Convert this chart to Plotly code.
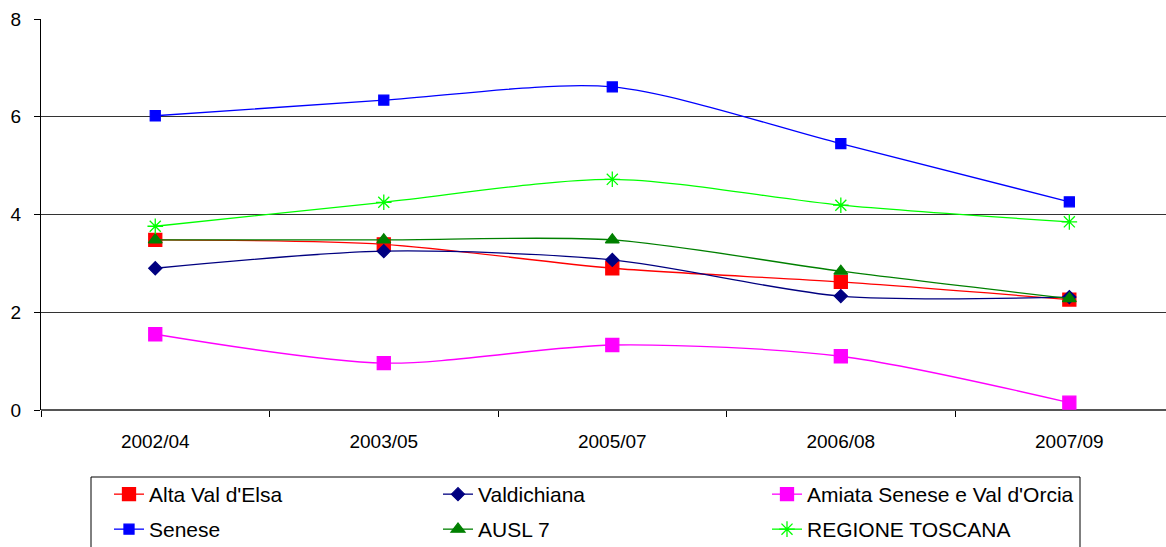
import plotly.graph_objects as go

categories = ["2002/04", "2003/05", "2005/07", "2006/08", "2007/09"]
alta_val_delsa = [3.48, 3.39, 2.90, 2.62, 2.26]
valdichiana = [2.90, 3.25, 3.07, 2.33, 2.31]
amiata = [1.55, 0.96, 1.33, 1.10, 0.15]
senese = [6.02, 6.34, 6.61, 5.45, 4.26]
ausl7 = [3.48, 3.48, 3.48, 2.84, 2.28]
toscana = [3.76, 4.25, 4.72, 4.19, 3.85]
y_ticks = [0, 2, 4, 6, 8]

series = [
    ("Alta Val d'Elsa", alta_val_delsa, "#ff0000", "square", 13, "legend"),
    ("Valdichiana", valdichiana, "#000080", "diamond", 10, "legend"),
    ("Amiata Senese e Val d'Orcia", amiata, "#ff00ff", "square", 13, "legend"),
    ("Senese", senese, "#0000ff", "square", 10, "legend2"),
    ("AUSL 7", ausl7, "#008000", "triangle-up", 12, "legend2"),
    ("REGIONE TOSCANA", toscana, "#00ff00", "asterisk-open", 13, "legend2"),
]

fig = go.Figure()
for name, vals, color, sym, size, lg in series:
    fig.add_trace(go.Scatter(
        x=categories, y=vals, name=name, mode="lines+markers", legend=lg,
        line=dict(color=color, width=1.3, shape="spline", smoothing=0.8),
        marker=dict(symbol=sym, size=size, color=color,
                    line=dict(color=color, width=1.3)),
    ))

PW = 1125.0
PH = 391.0

def px_x(px):
    return (px - 41) / PW

def px_y(py):
    return (410 - py) / PH

legend_common = dict(
    orientation="h", xanchor="left", yanchor="top",
    entrywidth=284, entrywidthmode="pixels",
    font=dict(size=21, family="Liberation Sans, Arial, sans-serif", color="black"),
    borderwidth=0, bgcolor="rgba(0,0,0,0)", itemsizing="trace",
)

fig.update_layout(
    width=1166, height=547,
    margin=dict(l=41, r=0, t=19, b=137, autoexpand=False),
    paper_bgcolor="white", plot_bgcolor="white",
    font=dict(family="Liberation Sans, Arial, sans-serif", color="black"),
    showlegend=True,
    legend=dict(x=px_x(109), y=px_y(474), **legend_common),
    legend2=dict(x=px_x(109), y=px_y(509), **legend_common),
    shapes=[dict(type="rect", xref="paper", yref="paper",
                 x0=px_x(91), x1=px_x(1080),
                 y0=px_y(477), y1=px_y(600),
                 line=dict(color="black", width=1), fillcolor="rgba(0,0,0,0)")],
)

fig.update_xaxes(
    type="category", range=[-0.5, 4.423], automargin=False,
    tickson="boundaries", ticks="outside", ticklen=6, tickcolor="black",
    ticklabelstandoff=18,
    showgrid=False, showline=False, zeroline=False,
    tickfont=dict(size=19),
)
fig.update_yaxes(
    range=[0, 8], tickvals=y_ticks, ticks="outside", ticklen=6, tickcolor="black",
    ticklabelstandoff=9,
    automargin=False,
    showline=True, linecolor="black", linewidth=1,
    showgrid=True, gridcolor="#333333", gridwidth=1,
    zeroline=True, zerolinecolor="#555555", zerolinewidth=2,
    tickfont=dict(size=19),
)

fig.write_html(
    "out.html",
    config={"displayModeBar": False},
    post_script="document.body.style.margin='0';document.body.style.overflow='hidden';",
)
